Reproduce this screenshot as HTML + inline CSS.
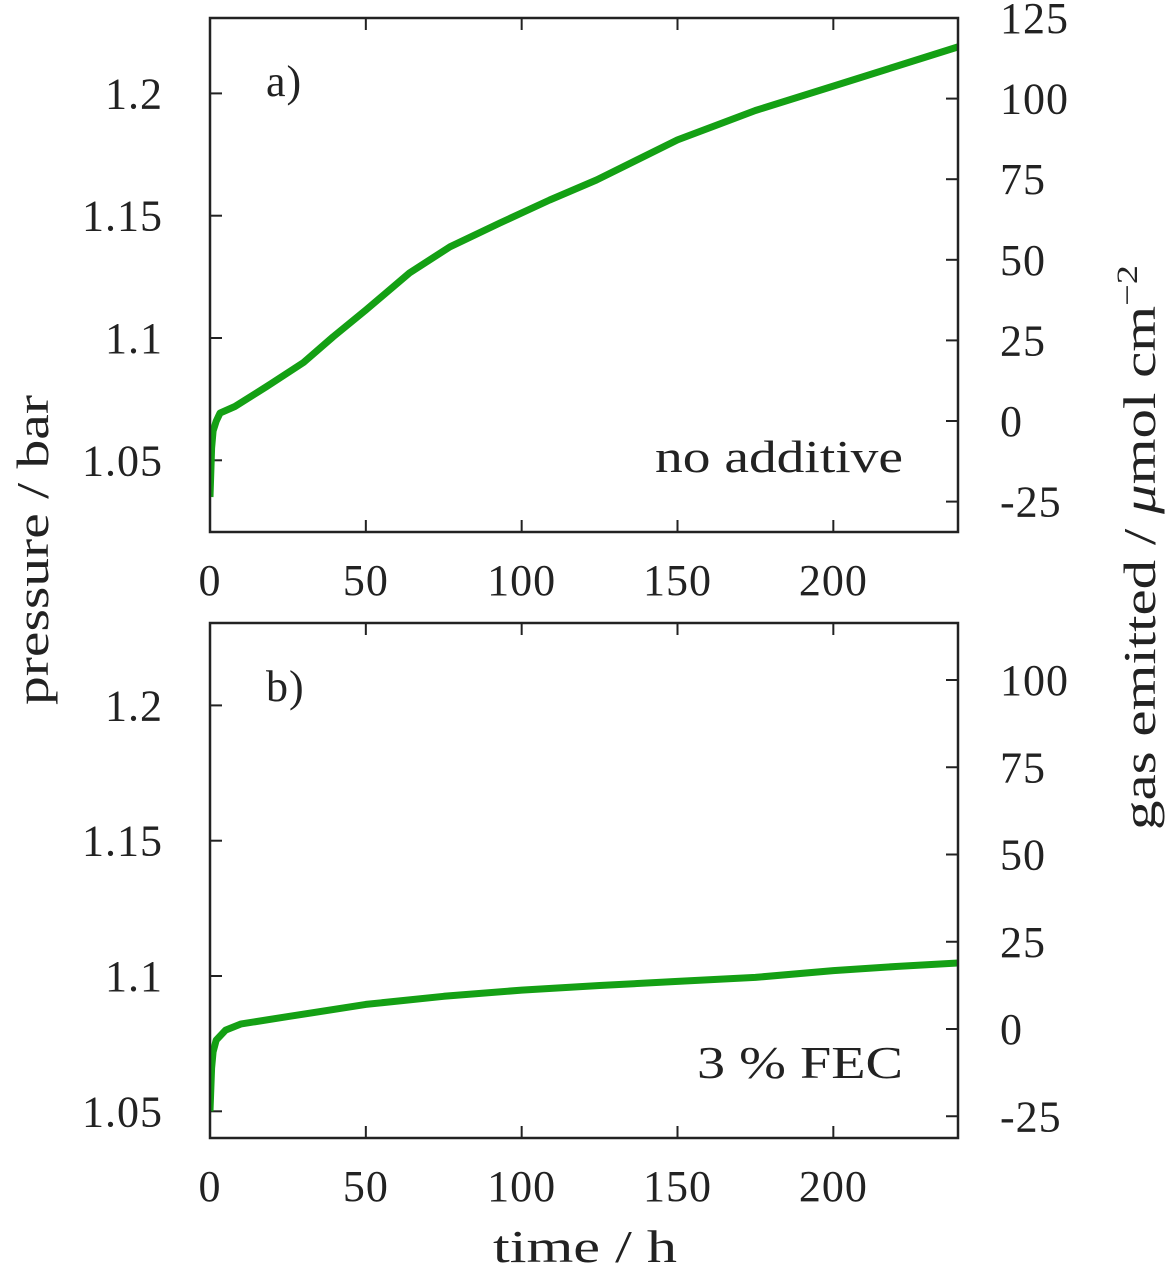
<!DOCTYPE html>
<html><head><meta charset="utf-8"><style>
html,body{margin:0;padding:0;background:#fff}
svg{display:block}
text{font-family:"Liberation Serif","DejaVu Serif",serif;font-size:44px;fill:#222;letter-spacing:1px}
.t{font-size:46px;letter-spacing:0}
</style></head><body>
<svg id="chart" width="1167" height="1280" viewBox="0 0 1167 1280" xmlns="http://www.w3.org/2000/svg"></svg>
<script>
const xTicks=[0,50,100,150,200];
const leftTicks=[1.05,1.1,1.15,1.2];
const leftTickLabels=["1.05","1.1","1.15","1.2"];
const rightTicksA=[-25,0,25,50,75,100,125];
const rightTicksB=[-25,0,25,50,75,100];
const timeA=[0,0.5,1,2,3.2,8,18,30,39.5,50,64,77,93,109,124,150,175,200,220,240];
const pressureA=[1.035,1.055,1.062,1.066,1.0693,1.072,1.080,1.090,1.1005,1.1114,1.1266,1.1373,1.147,1.1564,1.1646,1.181,1.193,1.203,1.211,1.219];
const timeB=[0,0.5,1,2,5,10,25,50,75,100,125,150,175,200,220,240];
const pressureB=[1.05,1.066,1.072,1.0763,1.080,1.0823,1.0850,1.0895,1.0925,1.0948,1.0965,1.098,1.0995,1.102,1.1035,1.1048];

const NS="http://www.w3.org/2000/svg";
const svg=document.getElementById('chart');
function mk(tag,attrs,parent){const e=document.createElementNS(NS,tag);for(const k in attrs)e.setAttribute(k,attrs[k]);(parent||svg).appendChild(e);return e;}
const X0=210,X1=958;
const xs=t=>X0+(t/240)*(X1-X0);

function panel(id,top,bot,yL,yR,rticks,times,vals,label,note,noteLen){
  const g=mk('g',{});
  
  
  const TL=12;
  xTicks.forEach(t=>{
    const x=xs(t);
    const a=mk('line',{x1:x,y1:bot,x2:x,y2:bot-TL,stroke:'#222','stroke-width':2},g);
    
    const b=mk('line',{x1:x,y1:top,x2:x,y2:top+TL,stroke:'#222','stroke-width':2},g);
    
    const tx=mk('text',{x:x,y:bot+63,'text-anchor':'middle'},g);tx.textContent=String(t);
    
  });
  leftTicks.forEach((v,i)=>{
    const y=yL(v);
    const l=mk('line',{x1:X0,y1:y,x2:X0+TL,y2:y,stroke:'#222','stroke-width':2},g);
    
    const tx=mk('text',{x:163,y:y+15,'text-anchor':'end'},g);tx.textContent=leftTickLabels[i];
    
  });
  rticks.forEach(v=>{
    const y=yR(v);
    const l=mk('line',{x1:X1,y1:y,x2:X1-TL,y2:y,stroke:'#222','stroke-width':2},g);
    
    const tx=mk('text',{x:1000,y:y+15,'text-anchor':'start'},g);tx.textContent=String(v);
    
  });
  const clip=mk('clipPath',{id:'clip-'+id},g);
  mk('rect',{x:X0,y:top,width:X1-X0,height:bot-top},clip);
  const d=times.map((t,i)=>(i?'L':'M')+xs(t).toFixed(1)+','+yL(vals[i]).toFixed(1)).join(' ');
  const p=mk('path',{d:d,fill:'none',stroke:'#14a014','stroke-width':7,'stroke-linejoin':'round','clip-path':'url(#clip-'+id+')'},g);
  
  const box=mk('rect',{x:X0,y:top,width:X1-X0,height:bot-top,fill:'none',stroke:'#222','stroke-width':2.5},g);
  
  const lb=mk('text',{x:266,y:top+78},g);lb.textContent=label;
  
  const nt=mk('text',{class:'t',x:903-noteLen,y:bot-60,textLength:noteLen,lengthAdjust:'spacingAndGlyphs'},g);nt.textContent=note;
  
}
panel('panel-a',18,532,v=>338-(v-1.1)/0.05*122.3,v=>421-v*3.224,rightTicksA,timeA,pressureA,'a)','no additive',248);
panel('panel-b',623,1138,v=>976-(v-1.1)/0.05*135.3,v=>1029-v*3.49,rightTicksB,timeB,pressureB,'b)','3 % FEC',206);

const yt=mk('text',{class:'t',x:-705,y:48,textLength:310,lengthAdjust:'spacingAndGlyphs',transform:'rotate(-90)'});
yt.textContent='pressure / bar';

const rt=mk('text',{class:'t',x:-830,y:1155,textLength:565,lengthAdjust:'spacingAndGlyphs',transform:'rotate(-90)'});
rt.innerHTML='gas emitted / <tspan font-style="italic">μ</tspan>mol cm<tspan dy="-18" font-size="30">−2</tspan>';

const xt=mk('text',{class:'t',x:493,y:1262,textLength:184,lengthAdjust:'spacingAndGlyphs'});
xt.textContent='time / h';

</script>
</body></html>
